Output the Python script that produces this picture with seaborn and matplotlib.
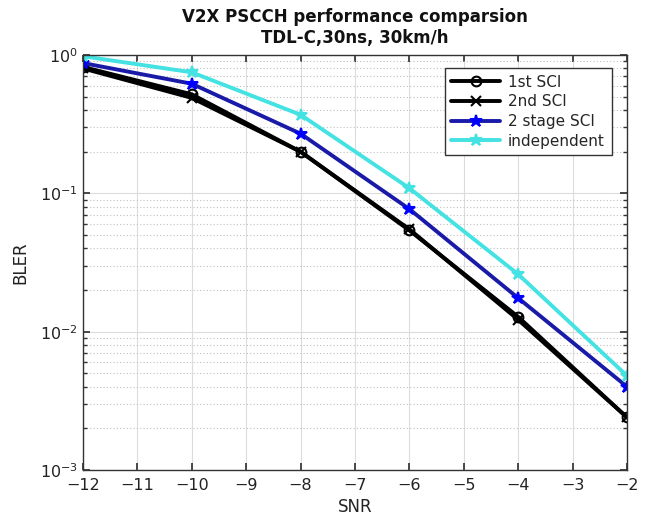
import numpy as np
import pandas as pd
import matplotlib
matplotlib.use("Agg")
import matplotlib.pyplot as plt
import seaborn as sns
from matplotlib.ticker import LogLocator, NullFormatter, MultipleLocator

snr = [-12, -10, -8, -6, -4, -2]
sci1 = [0.82, 0.52, 0.20, 0.054, 0.0128, 0.0024]
sci2 = [0.80, 0.49, 0.20, 0.055, 0.0122, 0.0024]
stage2 = [0.875, 0.62, 0.27, 0.077, 0.0175, 0.0040]
indep = [0.98, 0.75, 0.37, 0.109, 0.026, 0.0048]

labels = ["1st SCI", "2nd SCI", "2 stage SCI", "independent"]
series = [sci1, sci2, stage2, indep]
line_colors = ["black", "black", "#1a1aa8", "#44e2e2"]
marker_colors = ["black", "black", "#0000ff", "#44e2e2"]
markers = ["o", "x", "*", "*"]

sns.set_theme(style="white")
plt.rcParams["font.family"] = ["DejaVu Sans"]

fig = plt.figure(figsize=(6.48, 5.23), dpi=100)
ax = fig.add_axes([0.128, 0.1013, 0.8396, 0.7935])

for lab, vals, lc, mc, mk in zip(labels, series, line_colors, marker_colors, markers):
    df = pd.DataFrame({"SNR": snr, "BLER": vals})
    sns.lineplot(data=df, x="SNR", y="BLER", ax=ax, color=lc, lw=2.8,
                 marker=mk, markersize=9 if mk == "*" else 7,
                 markerfacecolor="none" if mk == "o" else mc,
                 markeredgecolor=mc, markeredgewidth=1.5, label=lab)

ax.set_yscale("log")
ax.set_ylim(1e-3, 1)
ax.set_xlim(-12, -2)
ax.xaxis.set_major_locator(MultipleLocator(1))
ax.yaxis.set_major_locator(LogLocator(base=10, numticks=10))
ax.yaxis.set_minor_locator(LogLocator(base=10, subs=np.arange(2, 10), numticks=10))
ax.yaxis.set_minor_formatter(NullFormatter())

ax.grid(True, which="major", axis="both", color="#dcdcdc", lw=0.8, ls="-")
ax.grid(True, which="minor", axis="y", color="#c0c0c0", lw=0.8, ls=(0, (1, 2)))
ax.set_axisbelow(True)

for s in ax.spines.values():
    s.set_color("#333333")
    s.set_linewidth(1.0)
ax.tick_params(which="both", direction="in", top=True, right=True,
               bottom=True, left=True, colors="#333333", labelcolor="#222222",
               labelsize=11.5)
ax.tick_params(which="major", length=5)
ax.tick_params(which="minor", length=3)
ax.tick_params(axis="x", pad=6)

ax.set_xlabel("SNR", fontsize=12, color="#222222", labelpad=3)
ax.set_ylabel("BLER", fontsize=12, color="#222222", labelpad=8)
ax.set_title("V2X PSCCH performance comparsion\nTDL-C,30ns, 30km/h",
             fontsize=12, fontweight="bold", color="#111111", pad=9,
             linespacing=1.2)

leg = ax.legend(loc="upper right", bbox_to_anchor=(0.972, 0.969),
                borderaxespad=0, fontsize=11,
                frameon=True, fancybox=False, edgecolor="#333333",
                framealpha=1, borderpad=0.45, labelspacing=0.3,
                handlelength=3.2, handletextpad=0.5)
leg.get_frame().set_linewidth(1.0)

fig.savefig("out.png", dpi=100)
